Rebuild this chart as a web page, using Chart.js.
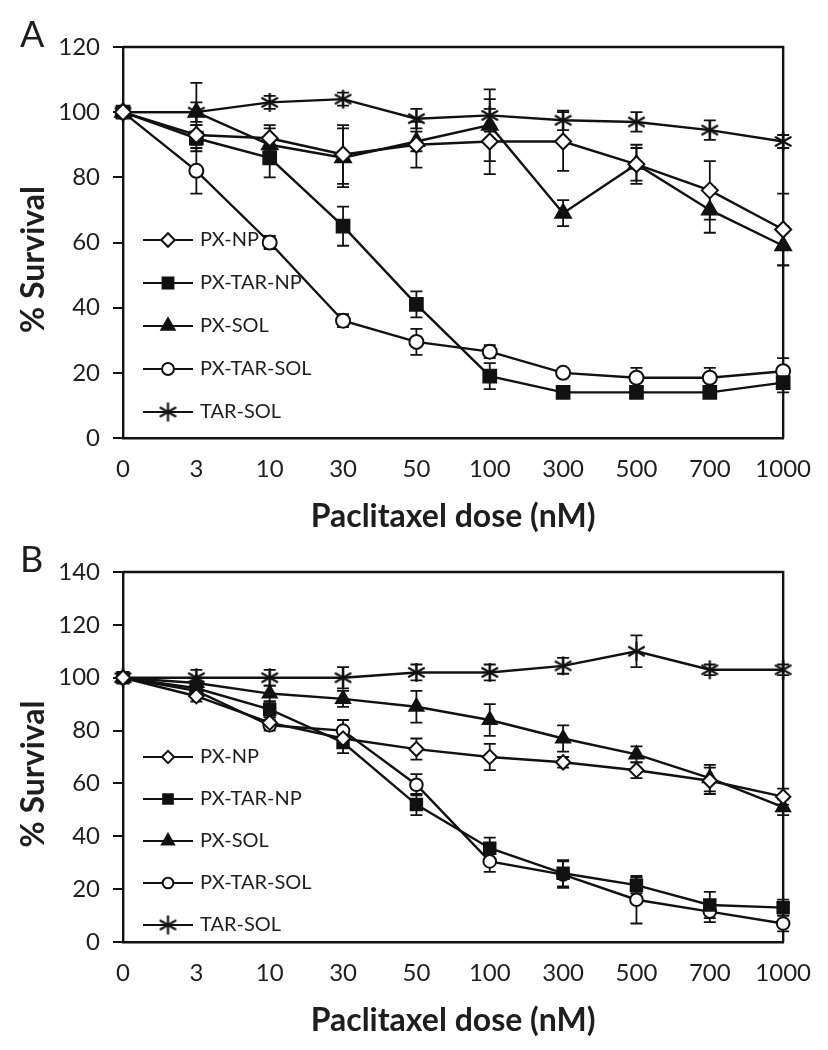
<!DOCTYPE html>
<html>
<head>
<meta charset="utf-8">
<script src="https://cdn.jsdelivr.net/npm/chart.js@4.4.0/dist/chart.umd.min.js"></script>
<style>
  body { margin: 0; background: #fff; }
  .panel { position: absolute; left: 0; width: 828px; }
</style>
</head>
<body>
<div class="panel" style="top:0;height:536px"><canvas id="chartA" width="828" height="536"></canvas></div>
<div class="panel" style="top:525px;height:525px"><canvas id="chartB" width="828" height="525"></canvas></div>
<script>
// DATA
const doses = ["0", "3", "10", "30", "50", "100", "300", "500", "700", "1000"];
const seriesNames = ["PX-NP", "PX-TAR-NP", "PX-SOL", "PX-TAR-SOL", "TAR-SOL"];

// panel A - mean % survival
const aPxNp = [100, 93, 92, 87, 90, 91, 91, 84, 76, 64];
const aPxTarNp = [100, 92, 86, 65, 41, 19, 14, 14, 14, 17];
const aPxSol = [100, 100, 90, 86, 91, 96, 69, 84, 70, 59];
const aPxTarSol = [100, 82, 60, 36, 29.5, 26.5, 20, 18.5, 18.5, 20.5];
const aTarSol = [100, 100, 103, 104, 98, 99, 97.5, 97, 94.5, 91];
// panel A - error (sd)
const aPxNpErr = [0, 3, 4, 9, 7, 10, 9, 5, 9, 11];
const aPxTarNpErr = [0, 4, 6, 6, 4, 4, 1, 1, 1, 3];
const aPxSolErr = [0, 9, 5, 9, 3, 11, 4, 6, 7, 6];
const aPxTarSolErr = [0, 7, 2, 2, 4, 2, 1, 3, 3, 4];
const aTarSolErr = [0, 3, 2, 2, 3, 5, 3, 3, 3, 2];

// panel B - mean % survival
const bPxNp = [100, 93, 83, 77, 73, 70, 68, 65, 61, 55];
const bPxTarNp = [100, 96, 88, 75.5, 52, 35.5, 26, 21.5, 14, 13];
const bPxSol = [100, 98, 94, 92, 89, 84, 77, 71, 62, 51];
const bPxTarSol = [100, 95, 82, 80, 59.5, 30.5, 25.5, 16, 11.5, 7];
const bTarSol = [100, 100, 100, 100, 102, 102, 104.5, 110, 103, 103];
// panel B - error (sd)
const bPxNpErr = [0, 2, 2, 3, 4, 5, 2, 3, 5, 3];
const bPxTarNpErr = [0, 2, 3, 4, 4, 4, 5, 3, 5, 3];
const bPxSolErr = [0, 2, 3, 3, 6, 6, 5, 3, 5, 3];
const bPxTarSolErr = [0, 2, 2, 4, 4, 4, 5, 9, 4, 3];
const bTarSolErr = [0, 3, 3, 4, 3, 3, 3, 6, 2, 2];

const INK = "#111";
const TEXT = "#1e1e1e";
const FONT = "Lato, 'Open Sans', sans-serif";

// six-ray asterisk marker
function makeStar(size) {
  const c = document.createElement("canvas");
  c.width = size;
  c.height = size;
  const g = c.getContext("2d");
  g.strokeStyle = INK;
  g.lineWidth = 2.2;
  const r = size / 2 - 1;
  for (let k = 0; k < 3; k++) {
    const a = Math.PI / 2 + k * Math.PI / 3;
    g.beginPath();
    g.moveTo(size / 2 + r * Math.cos(a), size / 2 + r * Math.sin(a));
    g.lineTo(size / 2 - r * Math.cos(a), size / 2 - r * Math.sin(a));
    g.stroke();
  }
  return c;
}

// error bars, drawn under the markers
const errorBars = {
  id: "errorBars",
  beforeDatasetsDraw(chart) {
    const ctx = chart.ctx;
    const y = chart.scales.y;
    ctx.save();
    ctx.strokeStyle = INK;
    ctx.lineWidth = 1.8;
    chart.data.datasets.forEach((ds, i) => {
      const meta = chart.getDatasetMeta(i);
      meta.data.forEach((pt, j) => {
        const e = ds.errors[j];
        if (!e) return;
        const top = y.getPixelForValue(ds.data[j] + e);
        const bot = y.getPixelForValue(ds.data[j] - e);
        ctx.beginPath();
        ctx.moveTo(pt.x, top);
        ctx.lineTo(pt.x, bot);
        ctx.moveTo(pt.x - 6, top);
        ctx.lineTo(pt.x + 6, top);
        ctx.moveTo(pt.x - 6, bot);
        ctx.lineTo(pt.x + 6, bot);
        ctx.stroke();
      });
    });
    ctx.restore();
  },
};

// closed frame, panel letter, y title and legend inside the plot
const frame = {
  id: "frame",
  beforeDatasetsDraw(chart) {
    const { left, top, right, bottom } = chart.chartArea;
    const ctx = chart.ctx;
    ctx.save();
    ctx.strokeStyle = INK;
    ctx.lineWidth = 2.4;
    ctx.beginPath();
    ctx.moveTo(left, top);
    ctx.lineTo(right, top);
    ctx.lineTo(right, bottom);
    ctx.stroke();
    ctx.restore();
  },
  afterDraw(chart, args, opts) {
    const ctx = chart.ctx;
    const area = chart.chartArea;
    ctx.save();
    ctx.fillStyle = TEXT;
    ctx.font = "36px " + FONT;
    ctx.textBaseline = "alphabetic";
    ctx.fillText(opts.tag, 20, 47);

    // y axis title, a little below the axis middle as in the original
    ctx.save();
    ctx.translate(34, (area.top + area.bottom) / 2 + 17);
    ctx.rotate(-Math.PI / 2);
    ctx.font = "bold 32px " + FONT;
    ctx.textAlign = "center";
    ctx.textBaseline = "middle";
    ctx.fillText("% Survival", 0, 0);
    ctx.restore();

    ctx.font = "20px " + FONT;
    ctx.textBaseline = "middle";
    chart.data.datasets.forEach((ds, i) => {
      const yy = opts.legendY + i * opts.legendGap;
      const x0 = opts.legendX;
      ctx.strokeStyle = INK;
      ctx.lineWidth = 2.2;
      ctx.beginPath();
      ctx.moveTo(x0, yy);
      ctx.lineTo(x0 + 50, yy);
      ctx.stroke();
      ctx.fillStyle = ds.pointBackgroundColor;
      ctx.strokeStyle = ds.pointBorderColor;
      ctx.lineWidth = ds.pointBorderWidth;
      Chart.helpers.drawPoint(ctx, {
        pointStyle: ds.pointStyle,
        radius: ds.pointRadius * 0.85,
        rotation: 0,
        borderWidth: ds.pointBorderWidth,
      }, x0 + 25, yy);
      ctx.fillStyle = TEXT;
      ctx.fillText(ds.label, x0 + 57, yy);
    });
    ctx.restore();
  },
};

const star = makeStar(21);
const markers = [
  { pointStyle: "rectRot", bg: "#fff", r: 8 },
  { pointStyle: "rect", bg: INK, r: 9 },
  { pointStyle: "triangle", bg: INK, r: 9 },
  { pointStyle: "circle", bg: "#fff", r: 7 },
  { pointStyle: star, bg: INK, r: 10 },
];

function buildDatasets(values, errors, scale) {
  return seriesNames.map((name, i) => ({
    label: name,
    data: values[i],
    errors: errors[i],
    borderColor: INK,
    borderWidth: 2.4,
    tension: 0,
    pointStyle: markers[i].pointStyle,
    pointRadius: markers[i].r * scale,
    pointBackgroundColor: markers[i].bg,
    pointBorderColor: INK,
    pointBorderWidth: 2,
    clip: false,
  }));
}

function makeChart(id, values, errors, yMax, xHeight, padBottom, markerScale, legend) {
  const ctx = document.getElementById(id).getContext("2d");
  return new Chart(ctx, {
    type: "line",
    data: { labels: doses, datasets: buildDatasets(values, errors, markerScale) },
    plugins: [errorBars, frame],
    options: {
      responsive: false,
      animation: false,
      layout: { padding: { top: 47, right: 36, left: 0, bottom: padBottom } },
      plugins: {
        legend: { display: false },
        tooltip: { enabled: false },
        frame: legend,
      },
      scales: {
        x: {
          type: "category",
          offset: false,
          grid: { display: false, drawTicks: false },
          border: { display: true, color: INK, width: 2.4 },
          ticks: { color: TEXT, font: { family: FONT, size: 24 }, padding: 17, maxRotation: 0, autoSkip: false },
          title: { display: true, text: "Paclitaxel dose (nM)", color: TEXT, font: { family: FONT, size: 32, weight: "bold" }, padding: 0 },
          afterFit(s) { s.height = xHeight; },
        },
        y: {
          min: 0,
          max: yMax,
          ticks: { stepSize: 20, color: TEXT, font: { family: FONT, size: 24 }, padding: 13 },
          grid: { drawOnChartArea: false, drawTicks: true, tickLength: 10, color: INK, lineWidth: 2 },
          border: { display: true, color: INK, width: 2.4 },
          title: { display: false },
          afterFit(s) { s.width = 123; },
        },
      },
    },
  });
}

document.fonts.load("bold 32px Lato").then(() => {
  makeChart("chartA",
    [aPxNp, aPxTarNp, aPxSol, aPxTarSol, aTarSol],
    [aPxNpErr, aPxTarNpErr, aPxSolErr, aPxTarSolErr, aTarSolErr],
    120, 98, 0, 1,
    { tag: "A", legendX: 143, legendY: 240, legendGap: 43 });
  makeChart("chartB",
    [bPxNp, bPxTarNp, bPxSol, bPxTarSol, bTarSol],
    [bPxNpErr, bPxTarNpErr, bPxSolErr, bPxTarSolErr, bTarSolErr],
    140, 98, 10, 0.9,
    { tag: "B", legendX: 143, legendY: 232, legendGap: 42 });
});
</script>
</body>
</html>
